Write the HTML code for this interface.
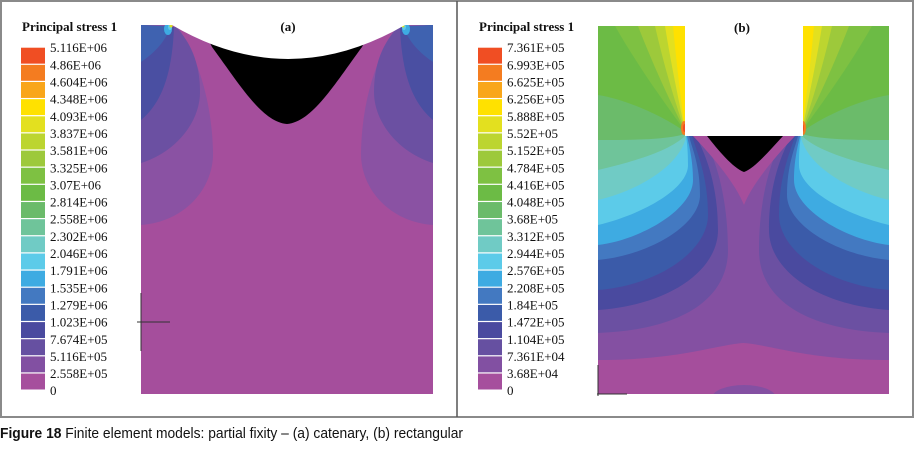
<!DOCTYPE html>
<html><head><meta charset="utf-8"><style>
html,body{margin:0;padding:0;background:#fff;}
svg{display:block;}
.lbl{font-family:"Liberation Serif",serif;font-size:13px;fill:#111;}
.ttl{font-family:"Liberation Serif",serif;font-size:13px;font-weight:bold;fill:#111;}
</style></head><body>
<svg id="fig" width="915" height="449" viewBox="0 0 915 449">
<defs>
  <clipPath id="clipA"><rect x="141" y="25" width="292" height="369"/></clipPath>
  <clipPath id="clipB"><rect x="598" y="26" width="291" height="368"/></clipPath>
</defs>
<rect x="1" y="1" width="912" height="416" fill="#fff" stroke="#8a8a8a" stroke-width="2"/>
<line x1="457" y1="1" x2="457" y2="417" stroke="#555" stroke-width="1.5"/>

<!-- Panel (a) -->
<g>
 <g clip-path="url(#clipA)">
  <rect x="141" y="25" width="292" height="369" fill="#a54e9c"/>
  <g id="ahalf">
    <path d="M141,225 C185,222 214,188 213,152 C212,105 200,62 178,27 L141,25 Z" fill="#8a52a3"/>
    <path d="M141,163 C176,152 200,122 200,92 C200,62 190,42 176,27 L141,25 Z" fill="#6b50a2"/>
    <path d="M141,120 C160,104 172,78 174,27 L141,25 Z" fill="#4a4fa2"/>
    <path d="M141,62 C156,52 166,40 171,26 L141,25 Z" fill="#3f62b0"/>
    <ellipse cx="168" cy="29" rx="4" ry="6" fill="#3eabe2"/>
    <ellipse cx="170" cy="27" rx="2" ry="3" fill="#5ccbe9"/>
    <ellipse cx="171" cy="26" rx="1.5" ry="1.5" fill="#d9e021"/>
  </g>
  <use href="#ahalf" transform="translate(574,0) scale(-1,1)"/>
  <path d="M205,33 L212,47 C240,85 262,122 287,124 C312,122 334,85 362,47 L369,33 Z" fill="#000"/>
  <path d="M160,18 L160,25 L172,25 Q288,93 405,25 L418,25 L418,18 Z" fill="#fff"/>
 </g>
  <line x1="141" y1="293" x2="141" y2="351" stroke="#333" stroke-width="1"/>
  <line x1="137" y1="322" x2="170" y2="322" stroke="#333" stroke-width="1"/>
  <text x="288" y="31" class="ttl" text-anchor="middle">(a)</text>
</g>

<!-- Panel (b) -->
<g>
 <g clip-path="url(#clipB)">
  <rect x="598" y="26" width="291" height="368" fill="#8450a2"/>
  <path d="M598,360 C680,360 715,345 743.5,343 C772,345 807,360 889,360 L889,394 L598,394 Z" fill="#a54e9c"/>
  <ellipse cx="744" cy="398" rx="32" ry="13" fill="#8450a2"/>
  <g id="bhalf">
    <path d="M598,333 C680,330 728,300 728,250 C728,190 712,150 702,136 L702,26 L598,26 Z" fill="#6b50a2"/>
    <path d="M598,310 C670,305 718,270 718,230 C718,180 703,150 696,136 L696,26 L598,26 Z" fill="#4a4a9f"/>
    <path d="M598,290 C660,285 708,250 708,215 C708,175 696,150 692,136 L692,26 L598,26 Z" fill="#3b5ba9"/>
    <path d="M598,260 C650,255 700,225 700,195 C700,165 692,148 689,136 L689,26 L598,26 Z" fill="#4379c1"/>
    <path d="M598,245 C640,240 693,210 693,180 C693,160 689,145 687,136 L687,26 L598,26 Z" fill="#3eabe2"/>
    <path d="M598,225 C640,215 688,190 688,165 C688,150 687,142 686,136 L686,26 L598,26 Z" fill="#5ccbe9"/>
    <path d="M598,200 C640,190 680,165 686,137 L686,26 L598,26 Z" fill="#70cbc5"/>
    <path d="M598,170 C640,160 670,150 685,136 L685,26 L598,26 Z" fill="#6fc49a"/>
    <path d="M598,140 C630,140 665,140 685,134 L685,26 L598,26 Z" fill="#6bbb6a"/>
    <path d="M598,95 C630,100 670,120 685,132 L685,26 L598,26 Z" fill="#6cbb45"/>
    <path d="M615,26 C640,70 670,110 685,131 L685,26 Z" fill="#7ec142"/>
    <path d="M638,26 C655,70 672,105 685,131 L685,26 Z" fill="#9dc93b"/>
    <path d="M655,26 C665,70 676,105 685,131 L685,26 Z" fill="#bcd530"/>
    <path d="M665,26 C672,70 680,105 685,132 L685,26 Z" fill="#e3e01f"/>
    <path d="M673,26 C677,70 682,105 685,133 L685,26 Z" fill="#ffe100"/>
    <ellipse cx="684" cy="128" rx="3" ry="7" fill="#f47c20"/>
    <ellipse cx="684.5" cy="128" rx="1.5" ry="4" fill="#f04e23"/>
  </g>
  <use href="#bhalf" transform="translate(1487,0) scale(-1,1)"/>
  <path d="M693,136 L795,136 C772,160 752,185 744,205 C736,185 716,160 693,136 Z" fill="#a54e9c"/>
  <rect x="685" y="20" width="118" height="116" fill="#fff"/>
  <path d="M707,136 L783,136 C770,150 755,168 744,172 C733,168 718,150 707,136 Z" fill="#000"/>
 </g>
  <line x1="598" y1="365" x2="598" y2="396" stroke="#333" stroke-width="1"/>
  <line x1="597" y1="394" x2="627" y2="394" stroke="#333" stroke-width="1"/>
  <text x="742" y="32" class="ttl" text-anchor="middle">(b)</text>
</g>

<g id="legends"></g>

<text x="0" y="438" font-family="Liberation Sans, sans-serif" font-size="15" textLength="463" lengthAdjust="spacingAndGlyphs" fill="#111"><tspan font-weight="bold">Figure 18</tspan> Finite element models: partial fixity – (a) catenary, (b) rectangular</text>
</svg>
<script>
const legendColors = ["#f04e23","#f47c20","#f9a61a","#ffe100","#e3e01f","#bcd530","#9dc93b","#7ec142","#6cbb45","#6bbb6a","#6fc49a","#70cbc5","#5ccbe9","#3eabe2","#4379c1","#3b5ba9","#4a4a9f","#6650a1","#8250a2","#a64f9d"];
const labelsA = ["5.116E+06","4.86E+06","4.604E+06","4.348E+06","4.093E+06","3.837E+06","3.581E+06","3.325E+06","3.07E+06","2.814E+06","2.558E+06","2.302E+06","2.046E+06","1.791E+06","1.535E+06","1.279E+06","1.023E+06","7.674E+05","5.116E+05","2.558E+05","0"];
const labelsB = ["7.361E+05","6.993E+05","6.625E+05","6.256E+05","5.888E+05","5.52E+05","5.152E+05","4.784E+05","4.416E+05","4.048E+05","3.68E+05","3.312E+05","2.944E+05","2.576E+05","2.208E+05","1.84E+05","1.472E+05","1.104E+05","7.361E+04","3.68E+04","0"];
const NS="http://www.w3.org/2000/svg";
const root=document.getElementById('legends');
const top0=47.7, pitch=17.15;
function legend(x0, labels, key){
  const g=document.createElementNS(NS,'g');
  
  
  const t=document.createElementNS(NS,'text');
  t.setAttribute('x', x0+1); t.setAttribute('y', 31); t.setAttribute('class','ttl');
  
  
  t.textContent="Principal stress 1"; g.appendChild(t);
  legendColors.forEach((c,i)=>{
    const r=document.createElementNS(NS,'rect');
    r.setAttribute('x', x0); r.setAttribute('y', top0+i*pitch);
    r.setAttribute('width', 24); r.setAttribute('height', pitch-1.2);
    r.setAttribute('fill', c);
    
    
    g.appendChild(r);
  });
  labels.forEach((l,i)=>{
    const tx=document.createElementNS(NS,'text');
    tx.setAttribute('x', x0+29); tx.setAttribute('y', top0+i*pitch+4.5);
    tx.setAttribute('class','lbl');
    
    
    tx.textContent=l; g.appendChild(tx);
  });
  root.appendChild(g);
}
legend(21, labelsA, 'panel-a');
legend(478, labelsB, 'panel-b');
</script>
</body></html>
